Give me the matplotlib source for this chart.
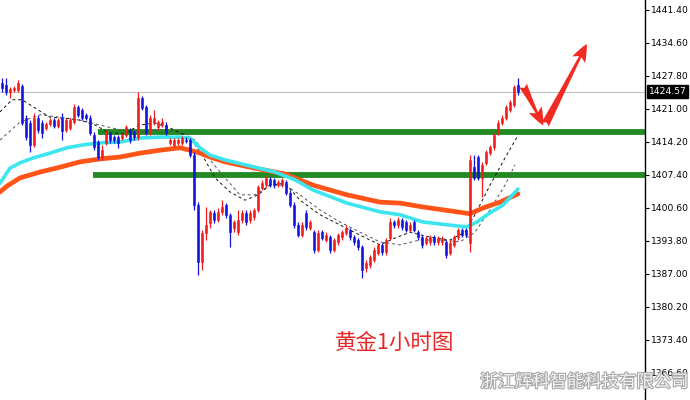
import numpy as np
import matplotlib.pyplot as plt
from matplotlib import patheffects as pe

plt.rcParams['font.family'] = ['Noto Sans CJK SC', 'DejaVu Sans']

# gold 1h candles (price)
opens = [1426.4, 1425.9, 1424.5, 1424.9, 1424.9, 1425.7, 1419.1, 1418.1, 1413.6, 1419.1,
         1418.1, 1417.1, 1417.9, 1418.7, 1417.5, 1419.1, 1416.7, 1417.1, 1418.3, 1421.4,
         1420.8, 1419.8, 1419.1, 1415.6, 1414.2, 1411.1, 1414.0, 1415.8, 1415.2, 1415.2,
         1415.0, 1415.6, 1416.7, 1416.3, 1415.2, 1423.3, 1421.4, 1416.3, 1418.1, 1417.3,
         1417.7, 1417.7, 1414.0, 1413.6, 1414.0, 1414.0, 1414.6, 1414.6, 1411.5, 1401.2,
         1389.5, 1395.4, 1397.5, 1399.6, 1398.1, 1399.8, 1401.2, 1399.2, 1396.5, 1395.6,
         1398.1, 1399.6, 1398.1, 1398.7, 1400.2, 1404.7, 1405.3, 1406.6, 1406.4, 1405.3,
         1405.3, 1406.0, 1403.7, 1401.2, 1397.1, 1395.0, 1399.6, 1396.5, 1395.6, 1391.9,
         1395.6, 1394.0, 1394.6, 1391.9, 1393.6, 1394.6, 1395.4, 1396.1, 1394.6, 1394.0,
         1392.6, 1388.2, 1388.8, 1389.9, 1391.3, 1393.0, 1391.5, 1394.4, 1397.7, 1397.1,
         1398.1, 1397.7, 1396.1, 1397.7, 1395.6, 1394.6, 1393.4, 1393.6, 1394.6, 1393.6,
         1393.6, 1393.6, 1391.3, 1393.0, 1394.6, 1396.1, 1396.1, 1393.4, 1409.0, 1411.1,
         1406.8, 1409.9, 1411.9, 1413.2, 1416.0, 1418.1, 1419.1, 1420.8, 1421.8, 1425.9]
highs = [1427.4, 1427.4, 1425.5, 1425.7, 1427.0, 1426.2, 1419.8, 1418.7, 1420.2, 1419.8,
         1418.7, 1418.3, 1419.1, 1419.1, 1419.1, 1420.2, 1419.1, 1419.1, 1422.0, 1421.8,
         1421.2, 1420.2, 1419.8, 1416.3, 1414.6, 1413.6, 1416.7, 1416.3, 1415.6, 1415.6,
         1416.0, 1417.7, 1417.1, 1416.7, 1424.5, 1423.7, 1421.8, 1419.8, 1420.8, 1418.7,
         1419.1, 1418.3, 1415.0, 1415.0, 1415.0, 1415.4, 1415.2, 1415.0, 1412.1, 1401.8,
         1396.1, 1400.8, 1400.2, 1400.2, 1400.6, 1402.2, 1401.6, 1399.6, 1398.1, 1400.2,
         1400.2, 1400.2, 1400.2, 1400.6, 1405.3, 1406.4, 1407.2, 1407.0, 1406.8, 1406.4,
         1406.8, 1406.4, 1404.3, 1401.8, 1397.7, 1397.7, 1400.2, 1398.1, 1396.1, 1396.1,
         1396.1, 1395.6, 1395.0, 1394.4, 1395.4, 1396.1, 1397.1, 1396.5, 1395.0, 1394.4,
         1393.0, 1389.9, 1390.9, 1392.6, 1393.4, 1393.4, 1394.4, 1398.5, 1398.1, 1398.7,
         1398.5, 1398.1, 1397.7, 1398.1, 1396.1, 1395.0, 1394.8, 1395.0, 1395.0, 1394.8,
         1394.8, 1394.0, 1394.0, 1395.0, 1396.5, 1396.5, 1396.5, 1411.5, 1411.5, 1411.5,
         1410.1, 1412.5, 1413.6, 1416.0, 1418.7, 1419.8, 1421.8, 1422.9, 1425.9, 1427.4]
lows = [1424.5, 1423.9, 1423.3, 1424.5, 1424.5, 1417.7, 1414.6, 1412.1, 1413.2, 1416.0,
        1415.0, 1416.7, 1417.5, 1417.1, 1417.1, 1414.6, 1416.3, 1416.7, 1417.9, 1419.3,
        1418.7, 1418.7, 1415.6, 1412.5, 1410.5, 1410.5, 1413.6, 1414.0, 1414.0, 1413.0,
        1414.6, 1415.2, 1414.0, 1414.6, 1414.6, 1420.8, 1415.6, 1415.6, 1417.7, 1416.7,
        1417.3, 1415.6, 1413.6, 1413.2, 1413.6, 1413.6, 1414.0, 1411.1, 1400.2, 1386.8,
        1387.8, 1394.0, 1396.5, 1397.5, 1397.7, 1399.2, 1398.5, 1392.6, 1395.6, 1395.0,
        1397.5, 1397.1, 1397.5, 1398.1, 1399.8, 1404.3, 1404.9, 1404.9, 1404.7, 1404.9,
        1404.9, 1403.3, 1400.8, 1396.5, 1394.6, 1394.6, 1396.1, 1396.1, 1391.3, 1391.5,
        1394.0, 1393.6, 1391.3, 1391.5, 1393.0, 1394.0, 1395.0, 1394.0, 1393.0, 1391.9,
        1386.2, 1387.4, 1388.2, 1389.5, 1390.9, 1390.9, 1390.9, 1394.0, 1396.5, 1396.5,
        1396.1, 1395.6, 1395.6, 1395.6, 1394.0, 1392.4, 1393.0, 1393.0, 1393.0, 1393.0,
        1393.0, 1390.3, 1390.9, 1392.6, 1394.0, 1394.6, 1394.6, 1391.5, 1406.4, 1406.4,
        1402.9, 1409.5, 1411.5, 1412.5, 1415.6, 1417.7, 1418.7, 1420.4, 1421.4, 1423.9]
closes = [1425.3, 1424.5, 1425.1, 1425.3, 1426.4, 1418.1, 1415.2, 1413.6, 1419.1, 1416.7,
          1416.0, 1417.9, 1418.7, 1417.5, 1418.7, 1416.5, 1418.7, 1418.7, 1421.4, 1419.8,
          1419.1, 1419.1, 1416.0, 1413.2, 1411.1, 1412.5, 1416.0, 1414.6, 1414.6, 1414.0,
          1415.6, 1417.3, 1414.6, 1415.2, 1423.3, 1421.2, 1416.0, 1419.1, 1419.1, 1418.3,
          1418.3, 1416.0, 1414.6, 1414.6, 1414.6, 1415.0, 1414.4, 1411.5, 1401.2, 1389.5,
          1395.4, 1397.1, 1399.8, 1398.1, 1399.8, 1400.8, 1399.2, 1395.6, 1397.7, 1398.1,
          1399.6, 1397.7, 1399.6, 1400.2, 1404.9, 1405.7, 1406.8, 1405.3, 1405.3, 1406.0,
          1406.4, 1403.7, 1401.2, 1397.1, 1395.0, 1397.1, 1396.7, 1397.7, 1391.9, 1395.4,
          1394.4, 1395.0, 1391.9, 1394.0, 1395.0, 1395.6, 1396.5, 1394.6, 1393.6, 1392.6,
          1387.8, 1389.3, 1390.5, 1391.9, 1393.0, 1391.5, 1394.0, 1397.7, 1397.1, 1398.1,
          1396.7, 1396.1, 1397.1, 1396.1, 1394.6, 1393.0, 1394.4, 1394.6, 1393.6, 1394.4,
          1394.4, 1390.9, 1393.4, 1394.6, 1396.1, 1395.0, 1395.0, 1410.5, 1406.8, 1406.8,
          1409.5, 1412.1, 1413.2, 1415.6, 1418.1, 1419.1, 1421.4, 1422.4, 1425.5, 1424.5]

# moving averages (bar index, price)
ma_slow_x = [-0.5, 1.25, 4.5, 9.5, 14.5, 19.5, 24.5, 29.5, 34.5, 39.5, 44.5, 47, 49.5, 52,
             55.75, 63.25, 70.75, 77.75, 86.25, 94.5, 99.5, 105.25, 113.75, 117, 120.25, 124.5, 129]
ma_slow = [1403.9, 1405.1, 1406.8, 1408.0, 1409.0, 1410.1, 1410.7, 1411.1, 1411.9, 1412.5, 1413.0,
           1412.5, 1411.9, 1411.1, 1410.1, 1408.8, 1407.6, 1405.3, 1403.3, 1401.8, 1401.6, 1400.8,
           1399.8, 1399.4, 1400.6, 1401.8, 1403.5]
ma_mid_x = [-0.5, 2, 4.5, 7.75, 12, 16.25, 20.25, 24.5, 29.5, 34.5, 39.5, 44.5, 47, 49.5, 52,
            55.75, 63.25, 68.25, 73.25, 77.75, 86.25, 94.5, 99.5, 105.25, 113.75, 116.25, 118.75,
            122, 125.25, 129]
ma_mid = [1405.7, 1408.8, 1409.9, 1410.9, 1411.9, 1413.0, 1413.6, 1414.0, 1414.2, 1415.0, 1415.2,
          1415.2, 1415.0, 1413.0, 1411.5, 1410.5, 1409.0, 1408.0, 1406.4, 1404.3, 1401.6, 1399.8,
          1399.2, 1397.7, 1396.9, 1396.7, 1397.7, 1399.6, 1401.2, 1404.5]
ma_fast1_x = [-0.5, 2.5, 5, 8.25, 12, 15.75, 19.5, 23.25, 27, 30.75, 34.5, 38.25, 42, 45.75, 48.25,
              50.75, 53.25, 57, 60.75, 64, 67, 70.75, 74.5, 79.5, 84.5, 89.5, 94.5, 98.25, 102, 107,
              112, 115.75, 118.25, 122, 125.75, 128.75]
ma_fast1 = [1420.4, 1422.9, 1422.9, 1421.2, 1419.3, 1419.1, 1418.7, 1417.7, 1416.0, 1416.0, 1417.7,
            1418.1, 1417.1, 1415.6, 1413.6, 1410.5, 1406.8, 1403.9, 1402.2, 1403.3, 1405.3, 1405.7,
            1402.2, 1399.2, 1397.1, 1395.0, 1393.0, 1394.4, 1395.6, 1394.6, 1394.0, 1395.6, 1399.2,
            1405.3, 1410.9, 1415.2]
ma_fast2_x = [-0.5, 4.5, 9.5, 14.5, 19.5, 24.5, 29.5, 34.5, 39.5, 44.5, 48.25, 52, 55.75, 59.5,
              63.25, 67, 70.75, 74.5, 79.5, 84.5, 89.5, 94.5, 99.5, 104.5, 109.5, 114.5, 118.25,
              122, 125.75, 128.25]
ma_fast2 = [1414.6, 1418.3, 1419.8, 1419.3, 1418.7, 1417.7, 1416.7, 1416.3, 1416.7, 1416.3, 1414.6,
            1410.5, 1406.8, 1403.3, 1403.3, 1405.3, 1405.3, 1403.3, 1400.2, 1397.7, 1395.6, 1393.6,
            1393.0, 1394.0, 1394.0, 1393.6, 1395.6, 1400.2, 1405.3, 1409.5]

levels = [1416.3, 1407.4]
level_start = [24, 22.75]
last_price = 1424.57
yticks = [1366.60, 1373.40, 1380.20, 1387.00, 1393.80, 1400.60, 1407.40,
          1414.20, 1421.00, 1427.80, 1434.60, 1441.40]

RED = '#f01c1c'
BLUE = '#1212dc'

fig = plt.figure(figsize=(6.9, 4.0), dpi=100)
ax = fig.add_axes([0, 0, 645 / 690, 1])

o = np.array(opens)
c = np.array(closes)
x = np.arange(len(o))
col = np.where(c >= o, RED, BLUE)

ax.plot(ma_fast2_x, ma_fast2, color='#555555', lw=0.7, dashes=(3, 3), zorder=2)
ax.plot(ma_fast1_x, ma_fast1, color='#111111', lw=0.7, dashes=(3, 3), zorder=2)
for lv, st in zip(levels, level_start):
    ax.hlines(lv, st, 200, color='#228a22', lw=4.2, zorder=1)
ax.plot(ma_slow_x, ma_slow, color='#ff5418', lw=3.4, solid_capstyle='round', zorder=3)
ax.plot(ma_mid_x, ma_mid, color='#3de6ee', lw=2.6, solid_capstyle='round', zorder=3)

ax.vlines(x, lows, highs, colors=col, lw=0.9, zorder=4)
ax.bar(x, np.abs(c - o), bottom=np.minimum(o, c), width=0.72, color=col,
       edgecolor=col, lw=0.4, zorder=5)

ax.axhline(last_price, color='#c0c0c0', lw=0.8, zorder=0)

# hand-drawn style arrows
arrow_style = 'fancy,head_length=0.75,head_width=0.6,tail_width=0.35'
ax.annotate('', xy=(135.3, 1417.6), xytext=(130.3, 1425.8),
            arrowprops=dict(arrowstyle=arrow_style, color='#f22a22',
                            mutation_scale=17, lw=0, shrinkA=0, shrinkB=0))
ax.annotate('', xy=(146.2, 1434.4), xytext=(135.8, 1417.8),
            arrowprops=dict(arrowstyle=arrow_style, color='#f22a22',
                            mutation_scale=17, lw=0, shrinkA=0, shrinkB=0))

ax.set_xlim(-0.5, 160.75)
ax.set_ylim(1361.02, 1443.46)
for s in ['left', 'top', 'bottom']:
    ax.spines[s].set_visible(False)
ax.spines['right'].set_color('black')
ax.spines['right'].set_linewidth(1.0)
ax.set_xticks([])
ax.yaxis.tick_right()
ax.set_yticks(yticks)
ax.set_yticklabels(['%.2f' % v for v in yticks], fontsize=6.6, family='DejaVu Sans')
ax.tick_params(axis='y', length=3, width=0.8, pad=1.5)

ax.annotate('%.2f' % last_price, xy=(1, last_price), xycoords=('axes fraction', 'data'),
            xytext=(2.5, 0), textcoords='offset points', va='center', ha='left',
            fontsize=6.6, family='DejaVu Sans', color='white',
            bbox=dict(boxstyle='square,pad=0.2', fc='black', ec='black'))

fig.text(0.572, 0.142, '黄金1小时图', color='#e62828', fontsize=15.5,
         ha='center', va='center')
fig.text(0.998, 0.045, '浙江辉科智能科技有限公司', color='#f4f4f4', fontsize=12.5,
         ha='right', va='center',
         path_effects=[pe.withStroke(linewidth=1.6, foreground='#a8a8a8')])

fig.savefig('out.png', dpi=100)
